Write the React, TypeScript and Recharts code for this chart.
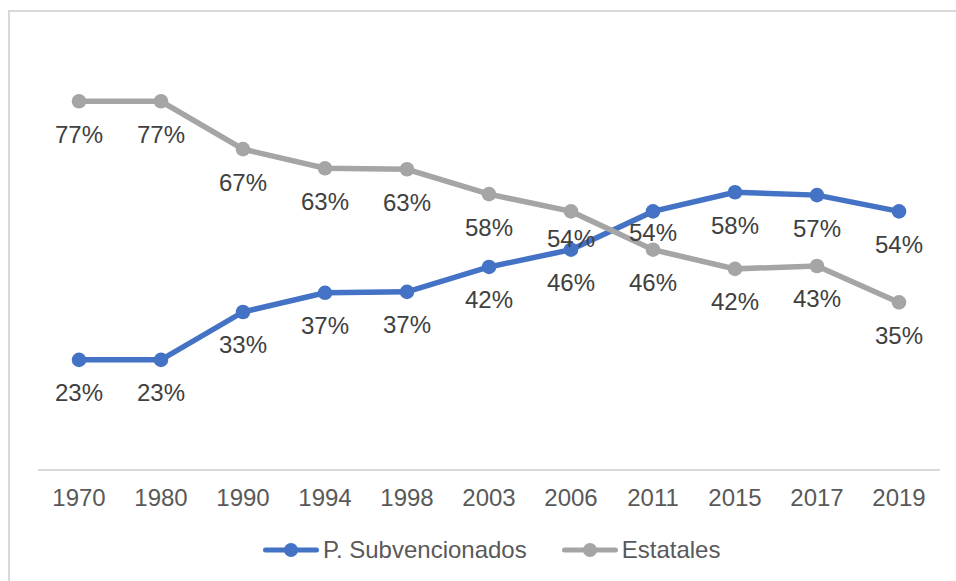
import React from 'react';
import { LineChart, Line, XAxis, YAxis, LabelList, Legend } from 'recharts';

const years = ['1970', '1980', '1990', '1994', '1998', '2003', '2006', '2011', '2015', '2017', '2019'];
const subvencionados = [23, 23, 33, 37, 37.2, 42.4, 46, 54, 58, 57.4, 54];
const estatales = [77, 77, 67, 63, 62.8, 57.6, 54, 46, 42, 42.6, 35];
const seriesNames = ['P. Subvencionados', 'Estatales'];

const data = years.map((y, i) => ({ year: y, sub: subvencionados[i], est: estatales[i] }));

const FONT = '"Liberation Sans", Arial, Helvetica, sans-serif';
const BLUE = '#4472C4';
const GRAY = '#A5A5A5';
const FS = 24;

const makeLabel = (overrides: Record<number, number>) => (props: any) => {
  const { value, index } = props;
  const x = props.x ?? props.viewBox?.x;
  const y = props.y ?? props.viewBox?.y;
  if (x == null || y == null) return null;
  const off = overrides[index] ?? 33;
  return (
    <text x={x} y={y + off + 8.5} textAnchor="middle" fill="#404040" fontSize={FS} fontFamily={FONT}>
      {`${Math.round(value)}%`}
    </text>
  );
};

const Tick = (props: any) => {
  const { x, y, payload } = props;
  return (
    <text x={x} y={y + 35.5} textAnchor="middle" fill="#595959" fontSize={FS} fontFamily={FONT}>
      {payload.value}
    </text>
  );
};

const legendItems = [
  { name: seriesNames[0], color: BLUE },
  { name: seriesNames[1], color: GRAY },
];

const LegendContent = () => (
  <div style={{ display: 'flex', alignItems: 'center', fontFamily: FONT, fontSize: FS, color: '#595959', lineHeight: '27px', whiteSpace: 'nowrap' }}>
    {legendItems.map((it, i) => (
      <div key={it.name} style={{ display: 'flex', alignItems: 'center', marginLeft: i === 0 ? 0 : 35 }}>
        <svg width={56} height={16} style={{ display: 'block' }}>
          <line x1={2.5} y1={8} x2={53.5} y2={8} stroke={it.color} strokeWidth={5} strokeLinecap="round" />
          <circle cx={28} cy={8} r={7} fill={it.color} />
        </svg>
        <span style={{ marginLeft: 4 }}>{it.name}</span>
      </div>
    ))}
  </div>
);

export default function App() {
  return (
    <div style={{ position: 'absolute', left: 0, top: 0, width: 956, height: 581, background: '#fff' }}>
      <div style={{ position: 'absolute', left: 8, top: 10, width: 948, height: 571, borderLeft: '2px solid #D9D9D9', borderTop: '2px solid #D9D9D9', boxSizing: 'border-box' }} />
      <div style={{ position: 'absolute', left: 0, top: 0 }}>
        <LineChart width={956} height={581} data={data} margin={{ top: 39, right: 16, left: 38, bottom: 81 }}>
          <XAxis
            dataKey="year"
            height={30}
            padding={{ left: 41, right: 41 }}
            axisLine={{ stroke: '#D9D9D9', strokeWidth: 2 }}
            tickLine={false}
            tickSize={0}
            tickMargin={0}
            interval={0}
            tick={<Tick />}
          />
          <YAxis hide domain={[0, 90]} type="number" allowDataOverflow />
          <Legend
            layout="horizontal"
            verticalAlign="middle"
            align="center"
            content={<LegendContent />}
            wrapperStyle={{ top: 536, left: 263, width: 'auto', height: 27 }}
          />
          <Line dataKey="sub" name={seriesNames[0]} stroke={BLUE} strokeWidth={5.5} isAnimationActive={false}
            dot={{ r: 7.3, fill: BLUE, stroke: BLUE, strokeWidth: 0 }} activeDot={false} />
          <Line dataKey="est" name={seriesNames[1]} stroke={GRAY} strokeWidth={5.5} isAnimationActive={false}
            dot={{ r: 7.3, fill: GRAY, stroke: GRAY, strokeWidth: 0 }} activeDot={false} />
          <Line dataKey="sub" stroke="none" dot={false} activeDot={false} legendType="none" isAnimationActive={false}>
            <LabelList dataKey="sub" content={makeLabel({ 7: 21 })} />
          </Line>
          <Line dataKey="est" stroke="none" dot={false} activeDot={false} legendType="none" isAnimationActive={false}>
            <LabelList dataKey="est" content={makeLabel({ 6: 27 })} />
          </Line>
        </LineChart>
      </div>
    </div>
  );
}
